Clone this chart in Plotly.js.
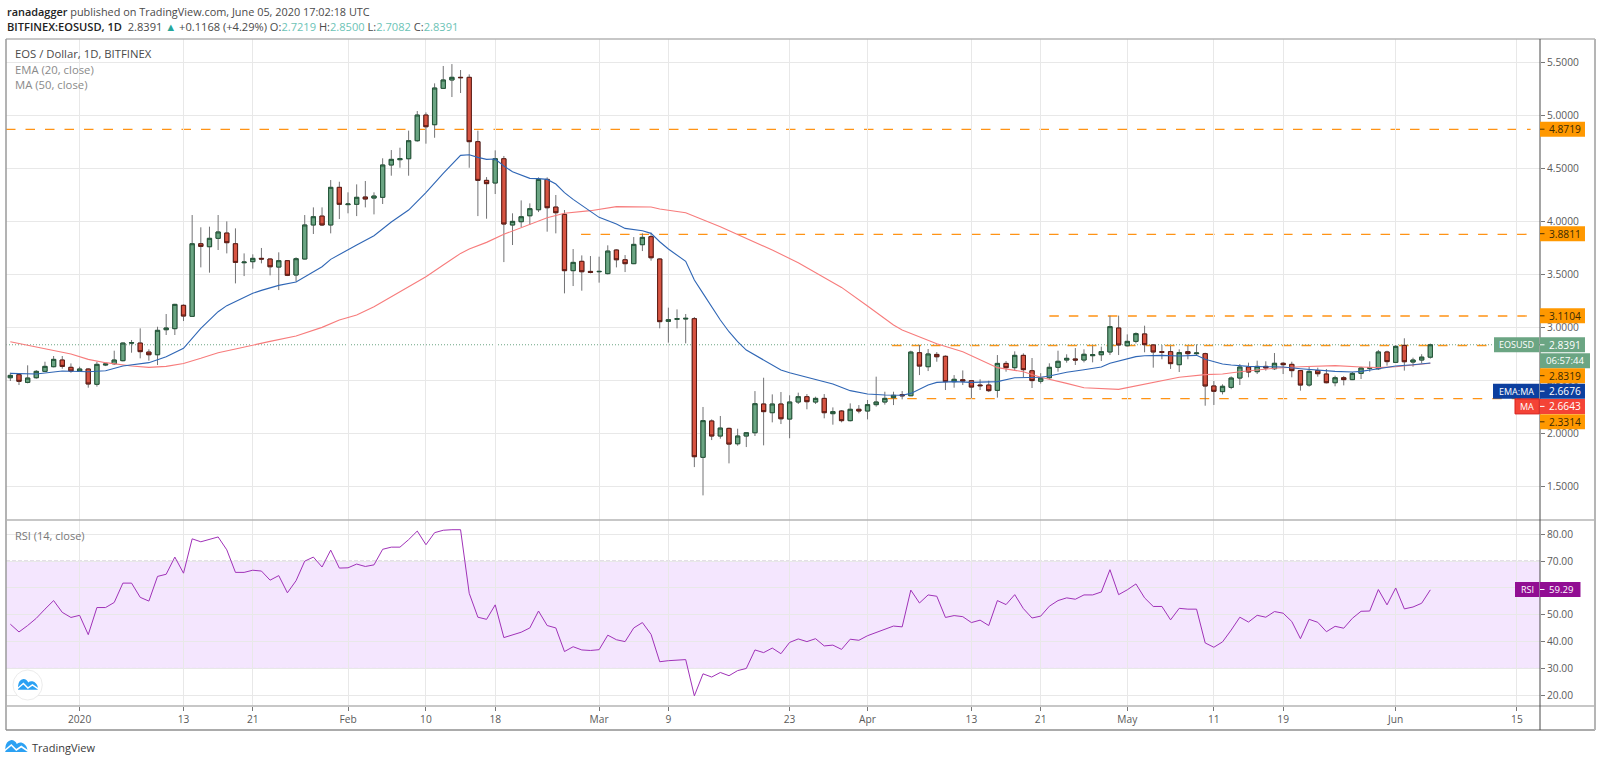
<!DOCTYPE html>
<html>
<head>
<meta charset="utf-8">
<script src="https://cdn.plot.ly/plotly-3.0.1.min.js"></script>
<style>html,body{margin:0;padding:0;background:#fff}#chart{width:1600px;height:763px}</style>
</head>
<body>
<div id="chart"></div>
<script>
// ---------- daily candles, 24 Dec 2019 .. 5 Jun 2020 ----------
const firstDay = '2019-12-24';
const opens = [
 2.528,2.557,2.484,2.528,2.588,2.632,2.695,2.626,
 2.591,2.610,2.466,2.648,2.660,2.689,2.855,2.855,2.770,2.745,2.981,2.991,3.211,3.107,3.792,3.764,3.843,3.893,3.792,3.613,3.623,3.654,3.648,3.572,3.632,3.497,3.648,3.969,4.053,3.969,4.324,
 4.161,4.164,4.233,4.223,4.230,4.535,4.585,4.594,4.764,5.006,4.915,5.258,5.337,5.362,5.362,4.755,4.390,4.365,4.594,3.969,4.000,4.056,4.113,4.399,4.138,4.069,3.538,3.626,3.531,
 3.528,3.510,3.733,3.641,3.604,3.783,3.859,3.648,3.060,3.079,3.082,3.085,1.777,2.120,1.978,2.050,1.905,1.978,2.009,2.280,2.198,2.280,2.138,2.299,2.349,2.299,2.333,2.189,2.214,2.123,2.230,
 2.214,2.274,2.299,2.340,2.368,2.358,2.764,2.632,2.748,2.730,2.491,2.509,2.500,2.459,2.459,2.409,2.663,2.623,2.739,2.594,2.495,2.528,2.626,2.695,2.705,2.695,2.736,2.745,2.771,2.997,
 2.830,2.871,2.941,2.837,2.774,2.774,2.651,2.774,2.755,2.755,2.450,2.397,2.437,2.525,2.629,2.585,2.635,2.613,2.664,2.654,2.595,2.459,2.595,2.563,2.481,2.528,2.510,2.569,2.617,2.613,2.771,
 2.673,2.833,2.676,2.695,2.7219];
const highs = [
 2.575,2.563,2.645,2.600,2.679,2.733,2.733,2.663,
 2.632,2.616,2.679,2.663,2.783,2.861,2.884,2.994,2.796,3.009,3.129,3.225,3.220,4.063,3.947,3.953,4.063,4.003,3.937,3.701,3.692,3.752,3.654,3.711,3.638,3.664,4.063,4.135,4.135,4.393,4.377,
 4.277,4.352,4.384,4.277,4.598,4.676,4.698,4.859,5.044,5.031,5.305,5.469,5.487,5.431,5.390,4.859,4.421,4.673,4.620,4.079,4.201,4.173,4.418,4.418,4.252,4.110,3.742,3.682,3.676,
 3.670,3.777,3.739,3.685,3.855,3.890,3.896,3.654,3.189,3.173,3.129,3.101,2.252,2.135,2.167,2.057,2.047,2.012,2.402,2.528,2.371,2.393,2.362,2.387,2.374,2.349,2.374,2.248,2.223,2.286,2.270,
 2.318,2.538,2.396,2.396,2.402,2.783,2.836,2.799,2.770,2.739,2.553,2.597,2.506,2.513,2.500,2.742,2.685,2.777,2.758,2.714,2.571,2.664,2.783,2.749,2.808,2.796,2.830,2.821,3.114,3.114,
 2.937,2.956,3.019,2.846,2.837,2.827,2.796,2.827,2.843,2.764,2.497,2.466,2.540,2.657,2.670,2.689,2.683,2.761,2.676,2.679,2.601,2.632,2.623,2.610,2.547,2.544,2.582,2.632,2.683,2.790,2.783,
 2.837,2.900,2.717,2.750,2.8500];
const lows = [
 2.497,2.459,2.475,2.519,2.582,2.626,2.613,2.575,
 2.582,2.434,2.444,2.638,2.648,2.682,2.764,2.711,2.689,2.648,2.931,2.931,3.063,3.104,3.569,3.519,3.733,3.701,3.418,3.487,3.557,3.607,3.494,3.355,3.487,3.434,3.645,3.884,3.959,3.890,4.025,
 4.079,4.053,4.135,4.069,4.167,4.434,4.509,4.434,4.755,4.736,4.792,5.258,5.176,5.214,4.509,4.053,4.028,4.261,3.619,3.780,3.950,3.969,4.091,3.906,3.890,3.324,3.393,3.349,3.513,
 3.425,3.503,3.569,3.525,3.600,3.723,3.632,2.994,2.859,2.994,2.852,1.685,1.418,1.940,1.953,1.720,1.887,1.874,1.978,1.890,2.107,2.091,1.957,2.280,2.230,2.280,2.145,2.085,2.107,2.116,2.192,
 2.135,2.255,2.274,2.270,2.324,2.355,2.553,2.591,2.679,2.412,2.434,2.459,2.333,2.412,2.393,2.340,2.585,2.594,2.532,2.431,2.473,2.513,2.585,2.670,2.648,2.673,2.673,2.686,2.742,2.742,
 2.821,2.852,2.768,2.623,2.702,2.611,2.582,2.702,2.733,2.264,2.271,2.371,2.420,2.459,2.532,2.563,2.595,2.601,2.563,2.532,2.406,2.444,2.538,2.475,2.447,2.456,2.506,2.516,2.585,2.601,2.642,
 2.667,2.595,2.632,2.664,2.7082];
const closes = [
 2.550,2.494,2.525,2.588,2.635,2.701,2.635,2.591,
 2.610,2.469,2.654,2.657,2.695,2.855,2.858,2.774,2.745,2.975,2.997,3.220,3.110,3.792,3.767,3.843,3.903,3.802,3.616,3.619,3.654,3.648,3.575,3.632,3.494,3.651,3.969,4.047,3.969,4.324,4.164,
 4.167,4.230,4.214,4.242,4.535,4.588,4.594,4.764,5.006,4.896,5.261,5.337,5.362,5.359,4.755,4.390,4.359,4.594,3.978,4.003,4.047,4.123,4.399,4.132,4.085,3.538,3.616,3.528,3.522,
 3.531,3.723,3.641,3.604,3.786,3.852,3.660,3.057,3.075,3.085,3.088,1.783,2.123,1.978,2.053,1.902,1.978,2.009,2.283,2.208,2.280,2.141,2.299,2.349,2.302,2.333,2.198,2.208,2.123,2.230,2.214,
 2.274,2.299,2.333,2.362,2.358,2.770,2.638,2.752,2.726,2.491,2.513,2.497,2.440,2.453,2.406,2.663,2.623,2.739,2.604,2.501,2.524,2.626,2.683,2.711,2.695,2.749,2.745,2.774,3.010,2.837,
 2.871,2.944,2.840,2.771,2.768,2.661,2.765,2.755,2.761,2.450,2.400,2.447,2.525,2.629,2.582,2.635,2.620,2.664,2.651,2.595,2.459,2.588,2.566,2.481,2.528,2.510,2.569,2.620,2.623,2.771,2.680,
 2.824,2.679,2.695,2.7223,2.8391];
const rsiValues = [
 46.5,43.6,46.0,48.7,52.1,55.3,50.9,49.0,
 49.8,42.6,52.7,52.7,54.6,61.8,61.8,56.5,55.1,64.3,65.1,71.5,65.5,78.3,77.2,78.2,79.0,74.2,65.8,65.8,66.6,66.3,62.9,64.6,58.2,62.7,70.0,71.5,67.8,74.1,67.4,
 67.5,68.9,68.0,68.6,74.4,75.2,75.2,78.0,81.2,76.1,80.6,81.5,81.7,81.7,58.0,49.1,48.3,53.7,41.5,42.4,43.5,45.1,51.4,46.0,45.1,36.3,38.1,36.9,36.7,
 37.0,42.4,40.7,40.0,45.1,47.1,42.7,32.5,32.9,33.1,33.3,19.8,28.0,26.8,28.5,27.3,29.2,30.0,36.9,35.9,37.6,35.5,39.7,41.0,40.0,41.1,38.4,38.7,37.1,40.9,40.5,
 42.2,43.4,44.6,45.8,45.5,59.2,54.4,57.4,56.9,49.0,49.7,49.3,47.1,48.0,46.0,55.3,53.8,57.5,52.3,48.8,49.5,53.2,55.3,56.3,55.8,57.4,57.4,58.5,66.8,57.5,
 59.3,61.5,56.3,53.1,53.1,48.1,52.4,52.1,52.1,39.5,37.9,39.9,44.3,49.1,47.3,49.8,49.1,51.2,50.6,47.5,41.1,48.3,47.2,43.7,45.7,45.0,48.7,51.3,51.4,59.4,53.7,
 60.0,52.2,52.9,54.3,59.29];

// ---------- moving averages, read at the dates listed ----------
const emaDates = ['2019-12-24','2019-12-27','2019-12-30','2020-01-02','2020-01-04','2020-01-06','2020-01-09','2020-01-11','2020-01-13','2020-01-15','2020-01-17','2020-01-18','2020-01-21','2020-01-22','2020-01-24','2020-01-26','2020-01-29','2020-01-30','2020-02-02','2020-02-04','2020-02-06','2020-02-08','2020-02-10','2020-02-12','2020-02-14','2020-02-15','2020-02-16','2020-02-17','2020-02-18','2020-02-19','2020-02-20','2020-02-22','2020-02-23','2020-02-24','2020-02-25','2020-02-26','2020-02-27','2020-02-29','2020-03-01','2020-03-03','2020-03-04','2020-03-06','2020-03-07','2020-03-08','2020-03-09','2020-03-11','2020-03-12','2020-03-13','2020-03-15','2020-03-16','2020-03-17','2020-03-18','2020-03-20','2020-03-21','2020-03-22','2020-03-23','2020-03-24','2020-03-25','2020-03-26','2020-03-28','2020-03-30','2020-04-01','2020-04-03','2020-04-05','2020-04-06','2020-04-08','2020-04-09','2020-04-11','2020-04-13','2020-04-15','2020-04-16','2020-04-18','2020-04-19','2020-04-21','2020-04-22','2020-04-24','2020-04-26','2020-04-28','2020-04-29','2020-04-30','2020-05-01','2020-05-02','2020-05-03','2020-05-05','2020-05-07','2020-05-09','2020-05-10','2020-05-11','2020-05-12','2020-05-13','2020-05-14','2020-05-15','2020-05-17','2020-05-19','2020-05-21','2020-05-23','2020-05-25','2020-05-27','2020-05-28','2020-05-30','2020-06-01','2020-06-03','2020-06-05'];
const emaValues = [2.569,2.563,2.591,2.585,2.594,2.638,2.670,2.726,2.805,2.994,3.151,3.208,3.324,3.352,3.399,3.431,3.575,3.645,3.780,3.868,3.997,4.110,4.274,4.456,4.626,4.632,4.607,4.588,4.591,4.525,4.472,4.409,4.406,4.399,4.355,4.274,4.211,4.101,4.041,3.978,3.937,3.915,3.890,3.811,3.742,3.626,3.450,3.324,3.072,2.962,2.868,2.789,2.695,2.648,2.601,2.575,2.554,2.535,2.513,2.469,2.406,2.374,2.365,2.362,2.380,2.459,2.484,2.491,2.484,2.484,2.491,2.528,2.529,2.532,2.544,2.579,2.604,2.629,2.664,2.683,2.702,2.727,2.736,2.739,2.733,2.739,2.702,2.680,2.658,2.648,2.642,2.635,2.632,2.629,2.613,2.598,2.588,2.582,2.588,2.613,2.639,2.651,2.6676];
const maDates = ['2019-12-24','2019-12-27','2019-12-31','2020-01-02','2020-01-04','2020-01-07','2020-01-09','2020-01-11','2020-01-13','2020-01-15','2020-01-17','2020-01-19','2020-01-21','2020-01-23','2020-01-26','2020-01-29','2020-01-31','2020-02-02','2020-02-04','2020-02-06','2020-02-08','2020-02-10','2020-02-12','2020-02-14','2020-02-15','2020-02-17','2020-02-19','2020-02-22','2020-02-24','2020-02-26','2020-02-29','2020-03-03','2020-03-07','2020-03-08','2020-03-11','2020-03-15','2020-03-18','2020-03-21','2020-03-24','2020-03-29','2020-04-01','2020-04-04','2020-04-05','2020-04-08','2020-04-09','2020-04-12','2020-04-15','2020-04-16','2020-04-19','2020-04-21','2020-04-24','2020-04-26','2020-04-30','2020-05-03','2020-05-07','2020-05-10','2020-05-12','2020-05-14','2020-05-16','2020-05-18','2020-05-21','2020-05-25','2020-05-28','2020-05-30','2020-06-01','2020-06-03','2020-06-05'];
const maValues = [2.868,2.821,2.752,2.701,2.670,2.638,2.626,2.635,2.663,2.711,2.764,2.799,2.837,2.871,2.921,3.003,3.072,3.120,3.198,3.292,3.387,3.481,3.591,3.701,3.742,3.805,3.881,3.978,4.038,4.079,4.104,4.142,4.138,4.120,4.085,3.953,3.843,3.733,3.613,3.380,3.204,3.025,2.978,2.878,2.849,2.774,2.657,2.623,2.585,2.532,2.475,2.434,2.418,2.469,2.532,2.557,2.563,2.585,2.601,2.617,2.632,2.642,2.629,2.623,2.632,2.645,2.6643];

// ---------- horizontal levels ----------
const levelValues = [4.8719,3.8811,3.1104,2.8319,2.3314];
const levelStarts = ['2019-12-23 12:00','2020-02-27 22:00','2020-04-22 00:00','2020-04-03 20:00','2020-04-03 08:00'];
const levelEnds   = ['2020-06-16 14:00','2020-06-17 02:00','2020-06-16 12:00','2020-06-12 00:00','2020-06-17 12:00'];
const lastPrice = 2.8391;

// ---------- axes ----------
const dateTicks = ['2020-01-01','2020-01-13','2020-01-21','2020-02-01','2020-02-10','2020-02-18','2020-03-01','2020-03-09','2020-03-23','2020-04-01','2020-04-13','2020-04-21','2020-05-01','2020-05-11','2020-05-19','2020-06-01','2020-06-15'];
const dateLabels = ['2020','13','21','Feb','10','18','Mar','9','23','Apr','13','21','May','11','19','Jun','15'];
const priceTicks = [1.5,2,2.5,3,3.5,4,4.5,5,5.5];
const rsiTicks = [20,30,40,50,60,70,80];

// ---------- page geometry helpers ----------
const L=5.7,R=1540,T=39,B=706;
const px=x=>(x-L)/(R-L), py=y=>1-(y-T)/(B-T);
const FONT='"Open Sans", "Noto Sans", sans-serif';
const days=opens.map((_,i)=>{const d=new Date(firstDay+'T00:00:00Z');d.setUTCDate(d.getUTCDate()+i);return d.toISOString().slice(0,10);});
const wickC='#737375', upFill='#6ba583', dnFill='#d75442', upEdge='#225437', dnEdge='#5b1a13';
const candle=(hi,lo,upLine,dnLine,name)=>({type:'candlestick',name,x:days,open:opens,high:hi,low:lo,close:closes,xaxis:'x',yaxis:'y',whiskerwidth:0,
  increasing:{line:{color:upLine,width:1},fillcolor:upFill},decreasing:{line:{color:dnLine,width:1},fillcolor:dnFill},hoverinfo:'skip',showlegend:false});
const traces=[
  candle(highs,lows,wickC,wickC,'EOSUSD wicks'),
  candle(opens.map((o,i)=>Math.max(o,closes[i])),opens.map((o,i)=>Math.min(o,closes[i])),upEdge,dnEdge,'EOSUSD'),
  {type:'scatter',mode:'lines',name:'MA 50',x:maDates,y:maValues,xaxis:'x',yaxis:'y',line:{color:'#f77c7c',width:1.1},hoverinfo:'skip',showlegend:false},
  {type:'scatter',mode:'lines',name:'EMA 20',x:emaDates,y:emaValues,xaxis:'x',yaxis:'y',line:{color:'#2f66b5',width:1.1},hoverinfo:'skip',showlegend:false},
  {type:'scatter',mode:'lines',name:'RSI 14',x:days,y:rsiValues,xaxis:'x2',yaxis:'y2',line:{color:'#a032b8',width:1},hoverinfo:'skip',showlegend:false}
];

// ---------- shapes ----------
const shapes=[];
const rect=(x0,y0,x1,y1,fill,lineC)=>shapes.push({type:'rect',xref:'paper',yref:'paper',x0:px(x0),x1:px(x1),y0:py(y0),y1:py(y1),fillcolor:fill,line:{width:lineC?1:0,color:lineC||fill},layer:'above'});
const seg=(x0,y0,x1,y1,c,w)=>shapes.push({type:'line',xref:'paper',yref:'paper',x0:px(x0),x1:px(x1),y0:py(y0),y1:py(y1),line:{color:c,width:w||1},layer:'above'});
// RSI band
shapes.push({type:'rect',xref:'x2',yref:'y2',x0:'2019-12-23 12:00',x1:'2020-06-17 16:00',y0:30,y1:70,fillcolor:'#f4e6fe',line:{width:0},layer:'below'});
[30,70].forEach(v=>shapes.push({type:'line',xref:'x2',yref:'y2',x0:'2019-12-23 12:00',x1:'2020-06-17 16:00',y0:v,y1:v,line:{color:'#b9abc0',width:1,dash:'4px,2px'},layer:'below'}));
// levels + last price
levelValues.forEach((v,i)=>shapes.push({type:'line',xref:'x',yref:'y',x0:levelStarts[i],x1:levelEnds[i],y0:v,y1:v,line:{color:'#ff9315',width:1.3,dash:'9.5px,10px'},layer:'below'}));
shapes.push({type:'line',xref:'x',yref:'y',x0:'2019-12-23 12:00',x1:'2020-06-17 16:00',y0:lastPrice,y1:lastPrice,line:{color:'#6ba583',width:1,dash:'1px,2px'},layer:'below'});
// frame
seg(5.7,39,1595,39,'#b5b5b5',1.5); seg(5.7,39,5.7,730,'#9a9a9a',1.5);
seg(5.7,730,1595,730,'#8f8f8f',1.5); seg(1595,39,1595,730,'#b5b5b5',2);
seg(5.7,520,1595,520,'#b5b5b5',1.5); seg(5.7,706,1595,706,'#b5b5b5',1.5);
seg(1540,39,1540,730,'#4a4a4a',1);

// ---------- price labels on the axis ----------
const ann=[];
const txt=(x,y,text,size,color,anchor,extra)=>ann.push(Object.assign({xref:'paper',yref:'paper',x:px(x),y:py(y),text,showarrow:false,xanchor:anchor||'left',yanchor:'middle',align:anchor||'left',font:{family:FONT,size,color},borderpad:0},extra||{}));
const ORANGE='#ff9800', GREEN='#6ba583', NAVY='#0c3f9f', RED='#f44336', PURP='#910e93';
const TAG=10.2;
const tag=(yc,text,fill,color,wide)=>{rect(1540,yc-7.5,wide||1585,yc+7.5,fill);seg(1540,yc,1544.5,yc,color==='#fff'?'#fff':'#4a3000',1);txt(1548,yc,text,TAG,color);};
const leftTag=(x0,yc,text,fill,edge)=>{rect(x0,yc-7.5,1539.3,yc+7.5,fill,edge);txt((x0+1539)/2,yc,text,9,'#fff','center');};
tag(129.2,'4.8719',ORANGE,'#3a2a05');
tag(233.7,'3.8811',ORANGE,'#3a2a05');
tag(315.8,'3.1104',ORANGE,'#3a2a05');
tag(344.8,'2.8391',GREEN,'#fff'); leftTag(1494,344.8,'EOSUSD',GREEN);
rect(1540,353.2,1590,368.2,GREEN); txt(1565,360.7,'06:57:44',9.6,'#fff','center');
tag(375.7,'2.8319',ORANGE,'#3a2a05');
tag(391.2,'2.6676',NAVY,'#fff'); leftTag(1493,391.2,'EMA:MA',NAVY);
tag(406.4,'2.6643',RED,'#fff'); leftTag(1515,406.4,'MA',RED,'#d8201c');
tag(421.8,'2.3314',ORANGE,'#3a2a05');
rect(1540,582,1580.5,597,PURP); seg(1540,589.5,1544.5,589.5,'#fff',1); txt(1548,589.5,'59.29',9.6,'#fff');
leftTag(1515,589.5,'RSI',PURP);

// ---------- header and pane legends ----------
txt(5.5,11,'<span style="font-weight:600;color:#222">ranadagger</span> published on TradingView.com, June 05, 2020 17:02:18 UTC',10.9,'#4a4a4a');
const tv=s=>`<span style="color:#6cc3b6">${s}</span>`;
txt(5.5,26.3,'<span style="font-weight:600;color:#222">BITFINEX:EOSUSD, 1D</span>  2.8391 <span style="color:#26a69a">▲</span> +0.1168 (+4.29%) O:'+tv('2.7219')+' H:'+tv('2.8500')+' L:'+tv('2.7082')+' C:'+tv('2.8391'),11.1,'#4a4a4a');
txt(13.5,54,'EOS / Dollar, 1D, BITFINEX',11.3,'#4a4a4a');
txt(13.5,69.3,'EMA (20, close)',11.3,'#8a8a8a');
txt(13.5,84.6,'MA (50, close)',11.3,'#8a8a8a');
txt(13.5,535.5,'RSI (14, close)',11,'#777');
txt(30.5,747,'TradingView',11,'#3a3a3a');

// ---------- TradingView marks ----------
const pathOf=(cmds)=>cmds.map(c=>{let s=c[0];for(let i=1;i<c.length;i+=2){s+=' '+px(c[i]).toFixed(5)+','+py(c[i+1]).toFixed(5);}return s;}).join(' ');
const logo=(x,y,k)=>{
  const P=(a,b)=>[x+a*k,y+b*k];
  const cloud=[['M',...P(0,12)],['L',...P(0,8)],['Q',...P(0.5,1),...P(6,0)],['Q',...P(10,0.3),...P(11.5,4)],['Q',...P(13,2),...P(16,2.5)],['Q',...P(21,4),...P(22,9)],['L',...P(22,12)],['Z']];
  shapes.push({type:'path',xref:'paper',yref:'paper',path:pathOf(cloud),fillcolor:'#2ba1f3',line:{width:0},layer:'above'});
  const zig=[['M',...P(-0.5,10.5)],['L',...P(6,5)],['L',...P(11,10)],['L',...P(16,6.5)],['L',...P(22.5,11)]];
  shapes.push({type:'path',xref:'paper',yref:'paper',path:pathOf(zig),line:{color:'#fff',width:1.6*k},layer:'above'});
};
shapes.push({type:'circle',xref:'paper',yref:'paper',x0:px(12.7),x1:px(42),y0:py(670),y1:py(700),fillcolor:'#fff',line:{color:'#ececec',width:1},layer:'above'});
logo(17.7,679,0.9);
logo(5,740,1);

// ---------- layout ----------
const tickFont={family:FONT,size:10.2,color:'#5a5a5a'};
const gridC='#e8e8e8';
const xBase={range:['2019-12-23 12:00','2020-06-17 16:00'],type:'date',tickmode:'array',tickvals:dateTicks,showgrid:true,gridcolor:gridC,gridwidth:1,zeroline:false,showline:false};
const layout={
  width:1600,height:763,paper_bgcolor:'#fff',plot_bgcolor:'rgba(0,0,0,0)',
  margin:{l:L,r:1600-R,t:T,b:763-B,pad:0},showlegend:false,boxgap:0.3,boxmode:'overlay',
  font:{family:FONT},
  xaxis:Object.assign({},xBase,{domain:[0,1],anchor:'y',ticks:'',showticklabels:false,rangeslider:{visible:false},ticktext:dateLabels}),
  xaxis2:Object.assign({},xBase,{domain:[0,1],anchor:'y2',matches:'x',ticks:'outside',ticklen:4,tickcolor:'#777',ticktext:dateLabels,tickfont:tickFont,tickangle:0}),
  yaxis:{domain:[0.2789,1],anchor:'x',side:'right',range:[1.186,5.7236],tickmode:'array',tickvals:priceTicks,tickformat:'.4f',ticks:'outside',ticklen:4,tickcolor:'#777',tickfont:tickFont,showgrid:true,gridcolor:gridC,zeroline:false,showline:false},
  yaxis2:{domain:[0,0.2789],anchor:'x2',side:'right',range:[16.01,85.33],tickmode:'array',tickvals:rsiTicks,tickformat:'.2f',ticks:'outside',ticklen:4,tickcolor:'#777',tickfont:tickFont,showgrid:true,gridcolor:gridC,zeroline:false,showline:false},
  shapes,annotations:ann
};
Plotly.newPlot('chart',traces,layout,{staticPlot:true,displayModeBar:false});
</script>
</body>
</html>
